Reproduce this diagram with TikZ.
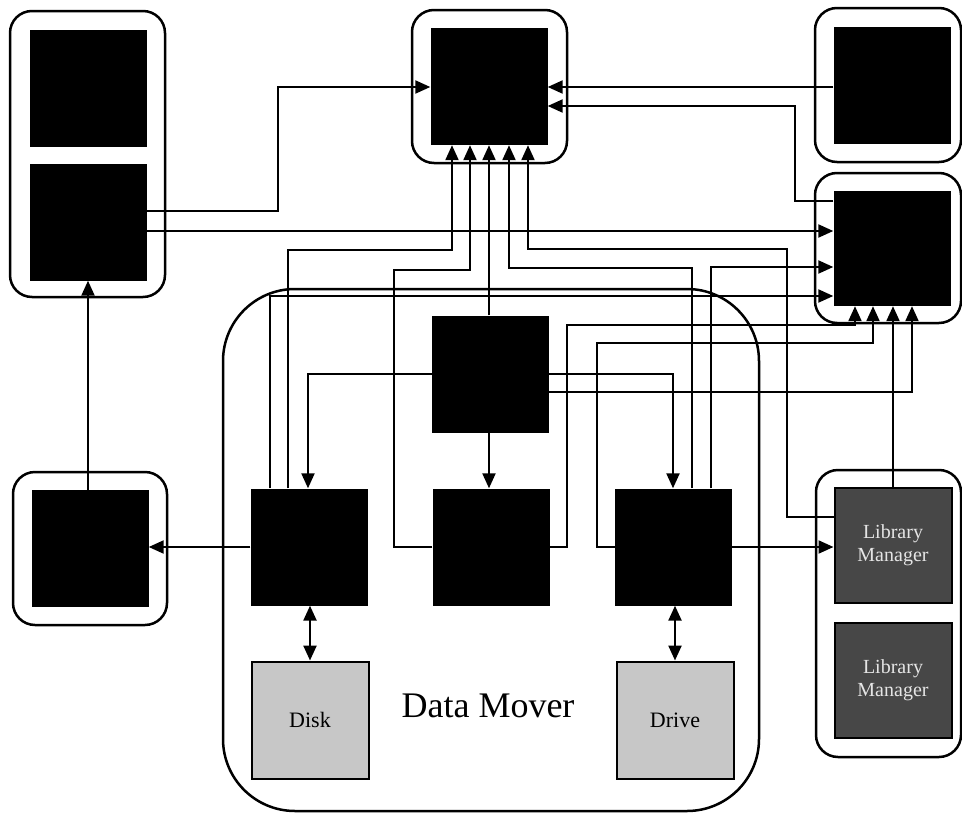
\documentclass[tikz,border=0pt]{standalone}
\usepackage{fontspec}
\setmainfont{Liberation Serif}
\usetikzlibrary{arrows.meta}
\begin{document}
\begin{tikzpicture}[x=1pt,y=-1pt,
  container/.style={draw, line width=2.5pt, rounded corners=22pt, minimum width=#1, inner sep=0pt},
  blk/.style={fill=black, draw=none, minimum width=117pt, minimum height=117pt, inner sep=0pt},
  litebox/.style={blk, fill=black!22, draw=black, line width=2pt, font=\fontsize{22}{24}\selectfont},
  darkbox/.style={blk, fill=black!72, draw=black, line width=2pt, text=black!10, align=center, font=\fontsize{20}{23}\selectfont},
  conn/.style={line width=2.2pt, -{Triangle[length=15pt,width=13pt]}},
  dual/.style={line width=2.4pt, {Triangle[length=15pt,width=13pt]}-{Triangle[length=15pt,width=13pt]}}
]
\useasboundingbox (0,0) rectangle (962,814);

% grouping frames
\node[container=155pt, minimum height=286pt] (cL)  at (87.5,154) {};
\node[container=155pt, minimum height=153pt] (cT)  at (489.5,86.5) {};
\node[container=146pt, minimum height=154pt] (cTR) at (888,85) {};
\node[container=146pt, minimum height=150pt] (cRM) at (888,248) {};
\node[container=154pt, minimum height=153pt] (cSL) at (90,548.5) {};
\node[container=145pt, minimum height=287pt] (cLM) at (888.5,613.5) {};
\node[container=536pt, minimum height=522pt, rounded corners=72pt] (cDM) at (491,550) {};

% component blocks
\node[blk] (L1)  at (88,88) {};
\node[blk] (L2)  at (88,222) {};
\node[blk] (T)   at (489,86.5) {};
\node[blk] (TR)  at (892,85.5) {};
\node[blk, minimum height=115pt] (RM) at (892,248.5) {};
\node[blk] (SL)  at (90,548.5) {};
\node[blk] (DT)  at (490.5,374) {};
\node[blk] (DL)  at (309,547) {};
\node[blk] (DM)  at (491,547) {};
\node[blk] (DR)  at (673.5,547) {};
\node[litebox] (Disk)  at (310,720) {Disk};
\node[litebox] (Drive) at (675,720) {Drive};
\node[darkbox, minimum height=115pt] (LM1) at (893,545.5) {Library\\Manager};
\node[darkbox, minimum height=115pt] (LM2) at (893,680.5) {Library\\Manager};

\node[font=\fontsize{36}{40}\selectfont] (lbl) at (488,706) {Data Mover};

% links into the upper centre block
\draw[conn] (L2.east |- 0,211) -| (278,87) -- (T.west |- 0,87);
\draw[conn] (TR.west |- 0,87) -- (T.east |- 0,87);
\draw[conn] (RM.west |- 0,201) -| (795,106) -- (T.east |- 0,106);
\draw[conn] (DL.north -| 288,0) |- (452,250) -- (T.south -| 452,0);
\draw[conn] (DM.west |- 0,547) -| (394,270) -| (T.south -| 470,0);
\draw[conn] (DT.north -| 489,0) -- (T.south -| 489,0);
\draw[conn] (DR.north -| 692,0) |- (509,268) -- (T.south -| 509,0);
\draw[conn] (LM1.west |- 0,517) -| (787,249) -| (T.south -| 528,0);

% links into the right middle block
\draw[conn] (L2.east |- 0,231) -- (RM.west |- 0,231);
\draw[conn] (DL.north -| 270,0) |- (RM.west |- 0,296);
\draw[conn] (DR.north -| 711,0) |- (RM.west |- 0,267);
\draw[conn] (DM.east |- 0,547) -| (567,325) -| (RM.south -| 855,0);
\draw[conn] (DR.west |- 0,547) -| (597,343) -| (RM.south -| 873,0);
\draw[conn] (LM1.north -| 893,0) -- (RM.south -| 893,0);
\draw[conn] (DT.east |- 0,392) -| (RM.south -| 912,0);

% data mover internals
\draw[conn] (DT.west |- 0,374) -| (DL.north -| 308,0);
\draw[conn] (DT.east |- 0,374) -| (DR.north -| 673,0);
\draw[conn] (DT.south -| 489,0) -- (DM.north -| 489,0);
\draw[conn] (DL.west) -- (SL.east |- DL.west);
\draw[conn] (SL.north -| 88,0) -- (L2.south -| 88,0);
\draw[conn] (DR.east) -- (LM1.west |- DR.east);
\draw[dual] (DL.south -| 310,0) -- (Disk.north -| 310,0);
\draw[dual] (DR.south -| 675,0) -- (Drive.north -| 675,0);
\end{tikzpicture}
\end{document}
